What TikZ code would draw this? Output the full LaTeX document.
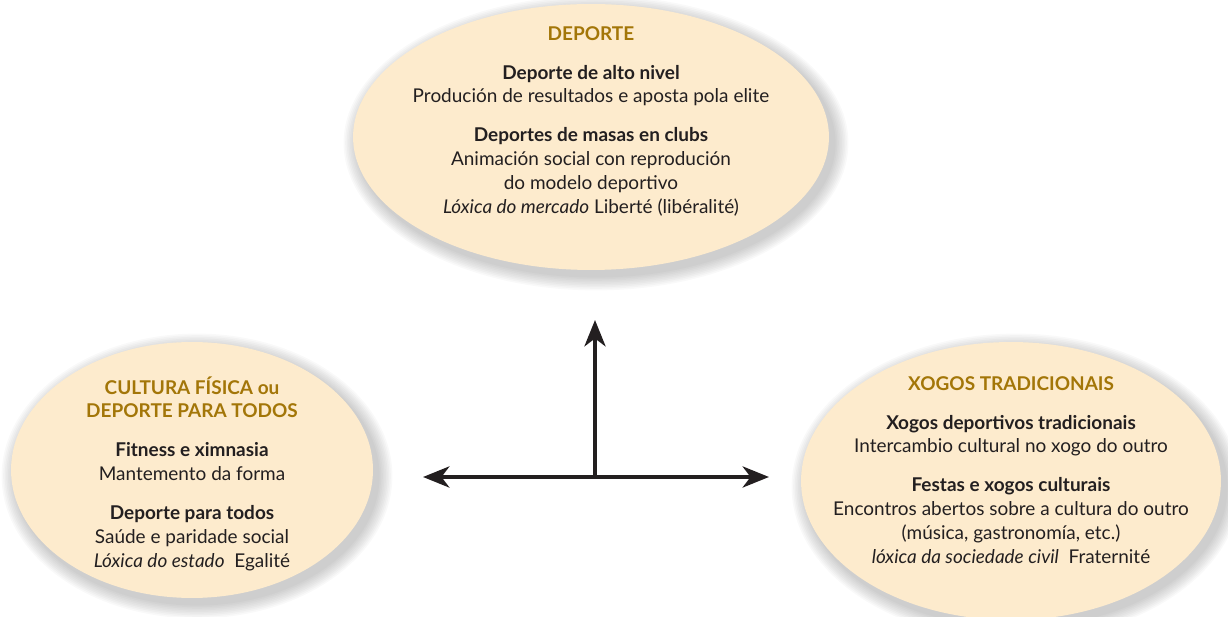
\documentclass[tikz,border=0pt]{standalone}
\usepackage{fontspec}
\setmainfont{Lato}
\usetikzlibrary{arrows.meta,shapes.geometric}
\definecolor{cream}{RGB}{253,235,205}
\definecolor{gold}{RGB}{163,118,8}
\definecolor{ink}{RGB}{35,31,32}
\newcommand{\ttl}[1]{\textcolor{gold}{\textbf{#1}}}
\tikzset{
  bubble/.style={ellipse, fill=cream, inner sep=0pt},
  txt/.style={align=center, anchor=north, inner sep=0pt, text=ink,
    font=\fontsize{10.8}{13.6}\selectfont},
  axis/.style={line width=2.3pt, draw=ink,
    >={Stealth[length=15pt,width=12pt,inset=4.5pt]}}
}

\begin{document}
\begin{tikzpicture}[x=0.02cm,y=-0.02cm]
  \useasboundingbox (0,0) rectangle (1228,617);
  % soft shadows under the three bubbles
  \foreach \cx/\cy/\rx/\ry in {591/137/238/133, 192/470/181/128, 1011/481/210/139}{
    \foreach \s in {1,...,9}
      \fill[black, opacity=0.025] (\cx+5,\cy+6) ellipse ({\rx+\s*1.6} and {\ry+\s*1.6});
  }
  \node[bubble, minimum width=9.52cm, minimum height=5.32cm] (deporte) at (591,137) {};
  \node[bubble, minimum width=7.24cm, minimum height=5.12cm] (cultura) at (192,470) {};
  \node[bubble, minimum width=8.4cm, minimum height=5.56cm] (xogos) at (1011,481) {};

  \node[txt] (deporteTxt) at (591,26) {\ttl{DEPORTE}\\[8.5pt]
    \textbf{Deporte de alto nivel}\\
    Produción de resultados e aposta pola elite\\[8.5pt]
    \textbf{Deportes de masas en clubs}\\
    Animación social con reprodución\\
    do modelo deportivo\\
    \textit{Lóxica do mercado} Liberté (libéralité)};
  \node[txt] (culturaTxt) at (192,376) {\ttl{CULTURA FÍSICA ou}\\
    \ttl{DEPORTE PARA TODOS}\\[8.5pt]
    \textbf{Fitness e ximnasia}\\
    Mantemento da forma\\[8.5pt]
    \textbf{Deporte para todos}\\
    Saúde e paridade social\\
    \textit{Lóxica do estado}\ \ Egalité};
  \node[txt] (xogosTxt) at (1011,376) {\ttl{XOGOS TRADICIONAIS}\\[8.5pt]
    \textbf{Xogos deportivos tradicionais}\\
    Intercambio cultural no xogo do outro\\[8.5pt]
    \textbf{Festas e xogos culturais}\\
    Encontros abertos sobre a cultura do outro\\
    (música, gastronomía, etc.)\\
    \textit{lóxica da sociedade civil}\ \ Fraternité};

  % the three-way arrows
  \coordinate (hub) at (595,476);
  \coordinate (upEnd) at (595,320);
  \coordinate (leftEnd) at (423,477);
  \coordinate (rightEnd) at (769,477);
  \draw[axis,->] (hub) -- (upEnd);
  \draw[axis,<->] (leftEnd) -- (rightEnd);
\end{tikzpicture}
\end{document}
